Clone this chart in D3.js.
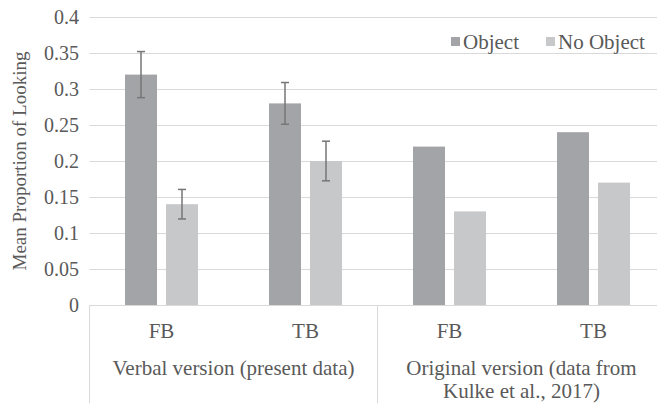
<!DOCTYPE html>
<html>
<head>
<meta charset="utf-8">
<script src="https://cdn.jsdelivr.net/npm/d3@7"></script>
<style>
  body { margin: 0; background: #fff; }
</style>
</head>
<body>
<div id="chart"></div>
<script>
// data
const conditions = ["FB", "TB", "FB", "TB"];
const groups = ["Verbal version (present data)", "Original version (data from|Kulke et al., 2017)"];
const series = ["Object", "No Object"];
const objectValues = [0.32, 0.28, 0.22, 0.24];
const noObjectValues = [0.14, 0.20, 0.13, 0.17];
const objectErrors = [0.032, 0.029, null, null];
const noObjectErrors = [0.0205, 0.0275, null, null];
const yTicks = [0, 0.05, 0.1, 0.15, 0.2, 0.25, 0.3, 0.35, 0.4];

const colors = {"Object": "#a3a4a8", "No Object": "#c7c8ca"};
const serif = "'Liberation Serif', 'Times New Roman', Times, serif";

(() => {
  const W = 657, H = 403;
  const left = 89.5, right = 665.5, top = 17, bottom = 305;

  const svg = d3.select("#chart").append("svg")
      .attr("width", W).attr("height", H)
      .style("font-family", serif);

  const idx = d3.range(conditions.length);

  const x0 = d3.scaleBand().domain(idx).range([left, right]).padding(0);
  const x1 = d3.scaleBand().domain(series).range([0, x0.bandwidth()])
      .paddingInner(9 / 41).paddingOuter(35.5 / 41);
  const y = d3.scaleLinear().domain([0, 0.4]).range([bottom, top]);

  // gridlines
  svg.append("g").selectAll("line")
    .data(yTicks)
    .enter().append("line")
    .attr("x1", left).attr("x2", W)
    .attr("y1", d => Math.round(y(d)) + 0.5)
    .attr("y2", d => Math.round(y(d)) + 0.5)
    .attr("stroke", "#d9d9d9").attr("stroke-width", 1);

  // y axis labels
  const axeY = d3.axisLeft(y).tickValues(yTicks).tickFormat(d => d3.format("")(+d.toFixed(2))).tickSize(0).tickPadding(10);
  const gy = svg.append("g").attr("transform", `translate(${left - 0.5},0)`).call(axeY)
    .attr("font-family", null).attr("font-size", null);
  gy.select(".domain").remove();
  gy.selectAll("text")
    .style("font-family", serif).style("font-size", "20px").attr("fill", "#595959");

  // bars
  const rows = idx.map(i => [
    {s: "Object", v: objectValues[i], e: objectErrors[i], i: i},
    {s: "No Object", v: noObjectValues[i], e: noObjectErrors[i], i: i}
  ]);

  const cat = svg.append("g").selectAll("g")
    .data(rows)
    .enter().append("g")
    .attr("transform", (d, i) => `translate(${x0(i)},0)`);

  cat.selectAll("rect")
    .data(d => d)
    .enter().append("rect")
    .attr("x", d => x1(d.s))
    .attr("width", x1.bandwidth())
    .attr("y", d => y(d.v))
    .attr("height", d => y(0) - y(d.v))
    .attr("fill", d => colors[d.s]);

  // error bars
  const err = cat.selectAll("g.err")
    .data(d => d.filter(b => b.e != null))
    .enter().append("g").attr("class", "err");
  const cx = d => x1(d.s) + x1.bandwidth() / 2;
  err.append("line")
    .attr("x1", cx).attr("x2", cx)
    .attr("y1", d => y(d.v + d.e)).attr("y2", d => y(d.v - d.e))
    .attr("stroke", "#767676").attr("stroke-width", 1.5);
  err.selectAll("line.cap")
    .data(d => [d.v + d.e, d.v - d.e].map(v => ({d: d, v: v})))
    .enter().append("line").attr("class", "cap")
    .attr("x1", p => cx(p.d) - 4).attr("x2", p => cx(p.d) + 4)
    .attr("y1", p => y(p.v)).attr("y2", p => y(p.v))
    .attr("stroke", "#767676").attr("stroke-width", 1.5);

  // category axis: baseline and group separators
  svg.append("line")
    .attr("x1", left).attr("x2", W)
    .attr("y1", bottom + 0.5).attr("y2", bottom + 0.5)
    .attr("stroke", "#d9d9d9");
  const groupEdges = [0, 2, 4].map(k => k < conditions.length ? x0(k) : right);
  svg.append("g").selectAll("line")
    .data(groupEdges)
    .enter().append("line")
    .attr("x1", d => d).attr("x2", d => d)
    .attr("y1", bottom).attr("y2", H)
    .attr("stroke", "#d9d9d9");

  svg.append("g").selectAll("text")
    .data(conditions)
    .enter().append("text")
    .attr("x", (d, i) => x0(i) + x0.bandwidth() / 2)
    .attr("y", 338)
    .attr("text-anchor", "middle")
    .attr("fill", "#595959")
    .style("font-size", "21px")
    .text(d => d);

  const gl = svg.append("g").selectAll("text")
    .data(groups)
    .enter().append("text")
    .attr("x", (d, i) => x0(i * 2) + x0.bandwidth())
    .attr("y", 375)
    .attr("text-anchor", "middle")
    .attr("fill", "#595959")
    .style("font-size", "21px");
  gl.selectAll("tspan")
    .data(d => d.split("|"))
    .enter().append("tspan")
    .attr("x", function() { return d3.select(this.parentNode).attr("x"); })
    .attr("dy", (d, i) => i === 0 ? 0 : 23)
    .text(d => d);

  // y title
  svg.append("text")
    .attr("transform", `translate(26,${(top + bottom) / 2}) rotate(-90)`)
    .attr("text-anchor", "middle")
    .attr("fill", "#595959")
    .style("font-size", "19px")
    .text("Mean Proportion of Looking");

  // legend
  const legendX = [451, 546];
  const lg = svg.append("g").selectAll("g")
    .data(series)
    .enter().append("g")
    .attr("transform", (d, i) => `translate(${legendX[i]},37)`);
  lg.append("rect").attr("width", 9).attr("height", 9).attr("fill", d => colors[d]);
  lg.append("text").attr("x", 12).attr("y", 12).attr("fill", "#595959")
    .style("font-size", "21px").text(d => d);
})();
</script>
</body>
</html>
